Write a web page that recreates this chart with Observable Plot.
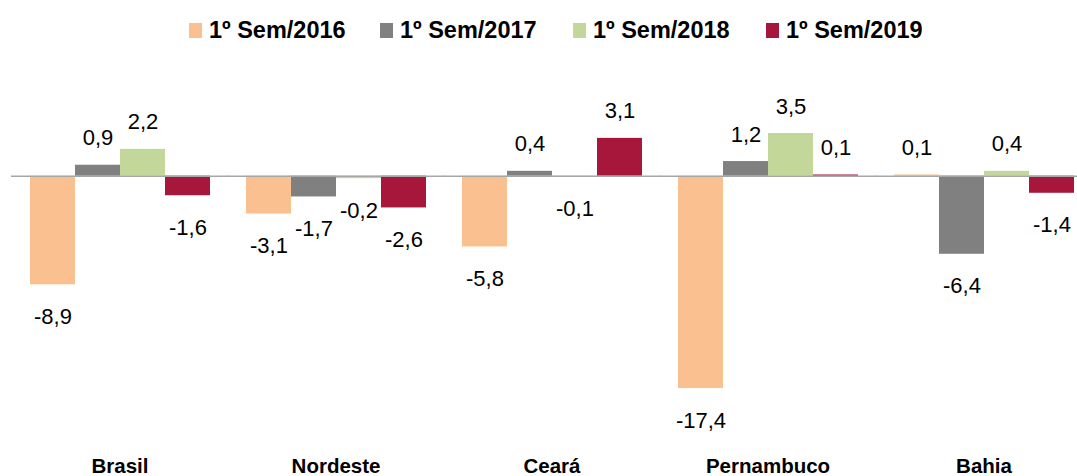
<!DOCTYPE html>
<html>
<head>
<meta charset="utf-8">
<script src="https://cdn.jsdelivr.net/npm/d3@7"></script>
<script src="https://cdn.jsdelivr.net/npm/@observablehq/plot@0.6"></script>
<style>
  body { margin: 0; background: #fff; font-family: "Liberation Sans", Arial, sans-serif; }
  #legend { position: relative; height: 60px; width: 1077px; }
  .item { position: absolute; top: 17px; display: flex; align-items: center; font-weight: bold; font-size: 23.5px; color: #000; white-space: nowrap; }
  .sw { width: 13px; height: 15px; margin-right: 7px; }
  #chart svg { display: block; }
</style>
</head>
<body>
<div id="legend"></div>
<div id="chart"></div>
<script>
const categories = ["Brasil", "Nordeste", "Ceará", "Pernambuco", "Bahia"];
const series = ["1º Sem/2016", "1º Sem/2017", "1º Sem/2018", "1º Sem/2019"];
const sem2016 = [-8.9, -3.1, -5.8, -17.4, 0.1];
const sem2017 = [0.9, -1.7, 0.4, 1.2, -6.4];
const sem2018 = [2.2, -0.2, -0.1, 3.5, 0.4];
const sem2019 = [-1.6, -2.6, 3.1, 0.1, -1.4];
const colors = ["#FAC090", "#808080", "#C4D79B", "#A6173B"];

const seriesValues = [sem2016, sem2017, sem2018, sem2019];
const data = [];
categories.forEach((c, i) => {
  series.forEach((s, j) => {
    data.push({category: c, series: s, value: seriesValues[j][i]});
  });
});
const fmt = v => v.toFixed(1).replace(".", ",");

// legend
const legend = document.getElementById("legend");
const legendX = [189, 380, 573, 766];
series.forEach((s, j) => {
  const it = document.createElement("div");
  it.className = "item";
  it.style.left = legendX[j] + "px";
  const sw = document.createElement("span");
  sw.className = "sw";
  sw.style.background = colors[j];
  const t = document.createElement("span");
  t.textContent = s;
  it.appendChild(sw);
  it.appendChild(t);
  legend.appendChild(it);
});

const chart = Plot.plot({
  width: 1077,
  height: 416,
  marginTop: 73,
  marginBottom: 88,
  marginLeft: 10,
  marginRight: -15,
  style: {fontFamily: "Liberation Sans, Arial, sans-serif", background: "#fff"},
  fx: {domain: categories, paddingInner: 0.153, paddingOuter: 0.0765, axis: null, label: null},
  x: {domain: series, padding: 0, axis: null, label: null},
  y: {domain: [-17.4, 3.5], axis: null, label: null},
  color: {domain: series, range: colors},
  marks: [
    Plot.barY(data, {fx: "category", x: "series", y: "value", fill: "series"}),
    Plot.ruleY([0], {stroke: "#A6A6A6", strokeWidth: 1.5, insetLeft: -17, insetRight: -17}),
    Plot.text(data.filter(d => d.value >= 0), {fx: "category", x: "series", y: "value", text: d => fmt(d.value), dy: -27, fontSize: 22, fill: "#000"}),
    Plot.text(data.filter(d => d.value < 0), {fx: "category", x: "series", y: "value", text: d => fmt(d.value), dy: 32, fontSize: 22, fill: "#000"}),
    Plot.text(categories, {fx: d => d, text: d => d, frameAnchor: "bottom", lineAnchor: "middle", dy: 78, fontSize: 20.5, fontWeight: "bold", fill: "#000"})
  ]
});
document.getElementById("chart").appendChild(chart);
</script>
</body>
</html>
